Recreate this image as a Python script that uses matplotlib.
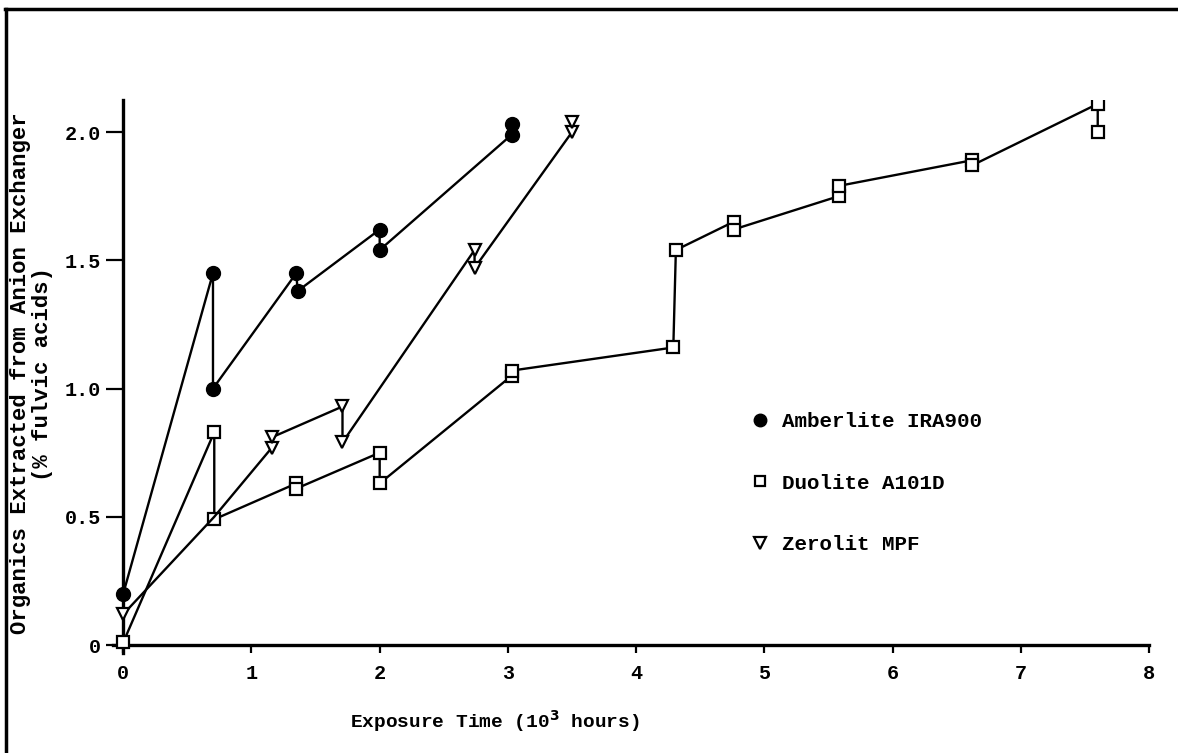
import matplotlib
matplotlib.use("Agg")
import matplotlib.pyplot as plt
from matplotlib.lines import Line2D

# replicate pairs per exposure time, in the order the lines join them
amb_x = [0, 0.70, 0.70, 1.35, 1.36, 2.00, 2.00, 3.03, 3.03]
amb_y = [0.20, 1.45, 1.00, 1.45, 1.38, 1.62, 1.54, 1.99, 2.03]

duo_x = [0, 0.71, 0.71, 1.35, 1.35, 2.00, 2.00, 3.03, 3.03, 4.29, 4.31,
         4.76, 4.76, 5.58, 5.58, 6.62, 6.62, 7.60, 7.60]
duo_y = [0.01, 0.83, 0.49, 0.63, 0.61, 0.75, 0.63, 1.05, 1.07, 1.16, 1.54,
         1.65, 1.62, 1.75, 1.79, 1.89, 1.87, 2.11, 2.00]

zer_x = [0, 0.71, 1.16, 1.16, 1.71, 1.71, 2.74, 2.74, 3.50, 3.50]
zer_y = [0.12, 0.50, 0.77, 0.81, 0.93, 0.79, 1.54, 1.47, 2.00, 2.04]
zer_hidden = 1  # point sitting under a Duolite square, no marker shown

names = ["Amberlite IRA900", "Duolite A101D", "Zerolit MPF"]
xticks = [0, 1, 2, 3, 4, 5, 6, 7, 8]
yticks = [0, 0.5, 1.0, 1.5, 2.0]
ytick_labels = ["0", "0.5", "1.0", "1.5", "2.0"]

font = "Liberation Mono"
plt.rcParams["font.family"] = font
plt.rcParams["font.weight"] = "bold"

fig = plt.figure(figsize=(11.78, 7.53), dpi=100)
ax = fig.add_axes([0.0959, 0.1332, 0.8795, 0.734])

ax.plot(amb_x, amb_y, color="k", lw=1.7, marker="o", ms=10,
        mfc="k", mec="k", zorder=3)
ax.plot(duo_x, duo_y, color="k", lw=1.7, marker="s", ms=8,
        mfc="white", mec="k", mew=1.6, zorder=3)
ax.plot(zer_x, zer_y, color="k", lw=1.7, marker="v", ms=9,
        mfc="white", mec="k", mew=1.6, zorder=3,
        markevery=[i for i in range(len(zer_x)) if i != zer_hidden])

ax.set_xlim(-0.08, 8.0)
ax.set_ylim(-0.03, 2.125)
ax.spines["left"].set_position(("data", 0))
ax.spines["bottom"].set_position(("data", 0))
ax.spines["right"].set_visible(False)
ax.spines["top"].set_visible(False)
ax.spines["left"].set_linewidth(2.4)
ax.spines["bottom"].set_linewidth(2.4)

ax.set_xticks(xticks)
ax.set_yticks(yticks)
ax.set_yticklabels(ytick_labels)
ax.tick_params(axis="x", direction="out", length=6, width=1.6,
               labelsize=14.5, pad=8)
ax.tick_params(axis="y", direction="out", length=12, width=1.6,
               labelsize=14.5, pad=4)

ax.set_xlabel("Exposure Time (10$^{\\mathbf{3}}$ hours)", fontsize=14,
              fontweight="bold")
ax.xaxis.set_label_coords(0.369, -0.101)
ax.set_ylabel("Organics Extracted from Anion Exchanger\n(% fulvic acids)",
              fontsize=16, fontweight="bold", linespacing=1.05)
ax.yaxis.set_label_coords(-0.058, 0.505)

handles = [
    Line2D([], [], ls="none", marker="o", ms=9, mfc="k", mec="k"),
    Line2D([], [], ls="none", marker="s", ms=7, mfc="white", mec="k", mew=1.6),
    Line2D([], [], ls="none", marker="v", ms=8, mfc="white", mec="k", mew=1.6),
]
ax.legend(handles, names, loc="upper left", bbox_to_anchor=(0.606, 0.454),
          frameon=False, fontsize=15, handlelength=0.8, handletextpad=0.7,
          labelspacing=2.04, borderpad=0)

# edges of the scanned page
fig.add_artist(Line2D([0.004, 1.0], [0.988, 0.988], transform=fig.transFigure,
                      color="k", lw=2.5))
fig.add_artist(Line2D([0.005, 0.005], [0.0, 0.988], transform=fig.transFigure,
                      color="k", lw=2.5))

fig.savefig("out.png", dpi=100)
